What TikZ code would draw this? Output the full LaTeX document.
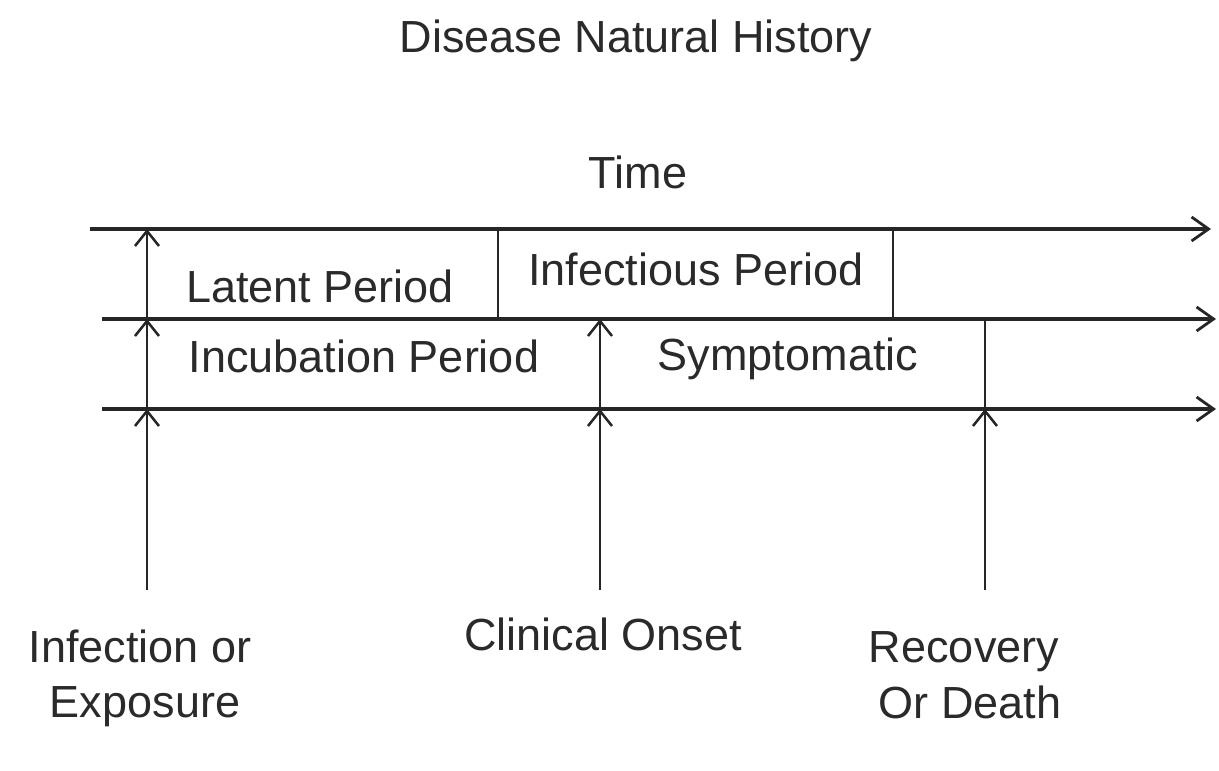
\documentclass[tikz,border=0pt]{standalone}
\usepackage{fontspec}
\setmainfont{Liberation Sans}
\usetikzlibrary{arrows.meta}
\definecolor{ink}{HTML}{262626}
\definecolor{txt}{HTML}{2A2A2A}
\begin{document}
\begin{tikzpicture}[x=1pt,y=-1pt,
  lbl/.style={anchor=base,inner sep=0pt,text=txt,font=\fontsize{45}{54}\selectfont},
  timeline/.style={draw=ink,line width=3.5pt,-{Straight Barb[length=17pt,width=24pt,line width=2.8pt]}},
  event/.style={draw=ink,line width=2.8pt,-{Straight Barb[length=15pt,width=24pt,line width=2.5pt]}},
  divider/.style={draw=ink,line width=2.8pt}]
\useasboundingbox[fill=white] (0,0) rectangle (1219,771);
% coordinates
\coordinate (t1s) at (90,229);  \coordinate (t1e) at (1211,229);
\coordinate (t2s) at (102,319); \coordinate (t2e) at (1216,319);
\coordinate (t3s) at (102,409); \coordinate (t3e) at (1216,409);
\coordinate (a0) at (147,590); \coordinate (a1) at (147,409); \coordinate (a2) at (147,319); \coordinate (a3) at (147,229);
\coordinate (b0) at (600,590); \coordinate (b1) at (600,409); \coordinate (b2) at (600,319);
\coordinate (c0) at (985,590); \coordinate (c1) at (985,409); \coordinate (c2) at (985,319);
\coordinate (d1a) at (498,229); \coordinate (d1b) at (498,319);
\coordinate (d2a) at (893,229); \coordinate (d2b) at (893,319);
% texts
\node[lbl] (title) at (636,52) {Disease Natural History};
\node[lbl] (time) at (638,188) {Time};
\node[lbl] (latent) at (320,302) {Latent Period};
\node[lbl] (infectious) at (696,285) {Infectious Period};
\node[lbl] (incubation) at (364,372) {Incubation Period};
\node[lbl] (symptomatic) at (788,370) {Symptomatic};
\node[lbl] (inf1) at (140,662) {Infection or};
\node[lbl] (inf2) at (145,717) {Exposure};
\node[lbl] (onset) at (603,650) {Clinical Onset};
\node[lbl] (rec1) at (964,662) {Recovery};
\node[lbl] (rec2) at (970,718) {Or Death};
% timelines
\draw[timeline] (t1s) -- (t1e);
\draw[timeline] (t2s) -- (t2e);
\draw[timeline] (t3s) -- (t3e);
% dividers
\draw[divider] (d1a) -- (d1b);
\draw[divider] (d2a) -- (d2b);
\draw[divider] (c1) -- (c2);
% event arrows
\draw[event] (a0) -- (a1);
\draw[event] (a1) -- (a2);
\draw[event] (a2) -- (a3);
\draw[event] (b0) -- (b1);
\draw[event] (b1) -- (b2);
\draw[event] (c0) -- (c1);
\end{tikzpicture}
\end{document}
